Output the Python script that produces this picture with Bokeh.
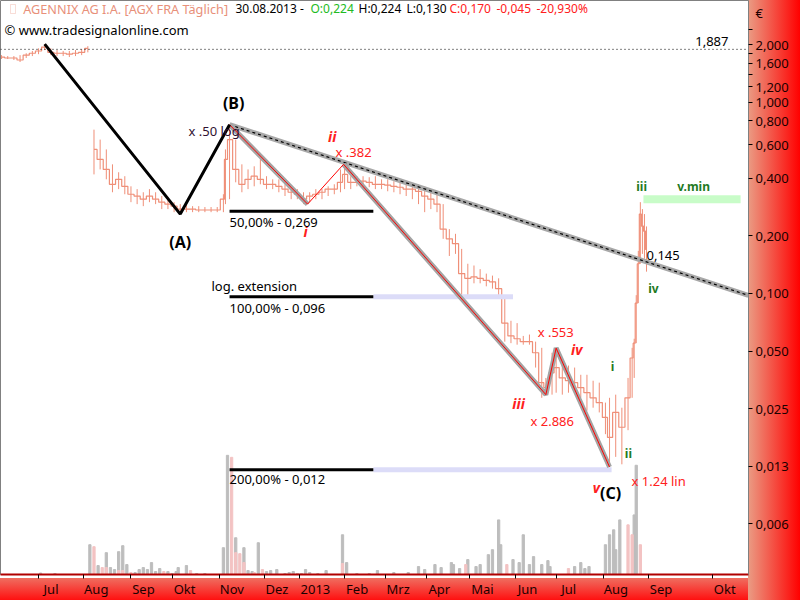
from bokeh.plotting import figure
from bokeh.models import Range1d, FixedTicker, Label, Span, BoxAnnotation, LinearScale
from bokeh.embed import file_html
from bokeh.resources import INLINE

FONT = "Noto Sans"

# x axis = trading-day index, 0 = 1 June 2012
month_names = ["Jul", "Aug", "Sep", "Okt", "Nov", "Dez", "2013", "Feb", "Mrz",
               "Apr", "Mai", "Jun", "Jul", "Aug", "Sep", "Okt"]
month_start = [21, 43, 66, 86, 109, 131, 148, 170, 190, 210, 231, 253, 273, 296, 318, 349]

y_ticks = [2.0, 1.6, 1.2, 1.0, 0.8, 0.6, 0.4, 0.2, 0.1, 0.05, 0.025, 0.0125, 0.00625]
y_tick_labels = ["2,000", "1,600", "1,200", "1,000", "0,800", "0,600", "0,400",
                 "0,200", "0,100", "0,050", "0,025", "0,013", "0,006"]
y_minor = [2.4, 1.8, 1.4]
currency_tick = 2.907   # "€" caption at the top of the price scale

# price bars (every ~3 trading days), EUR
bar_i = [3, 6, 9, 12, 15, 18, 21, 24, 27, 30, 33, 36, 39, 42, 45,
         48, 51, 54, 57, 60, 63, 66, 69, 72, 75, 78, 81, 84, 87, 90, 93, 96, 99, 102, 105, 108,
         111, 112, 114, 117, 120, 123, 126, 129, 132, 135, 138, 141, 144, 147, 150, 153, 156,
         159, 162, 165, 168, 170, 173, 176, 179, 182, 185, 188, 191, 194, 197, 200, 203, 206,
         209, 212, 215, 218, 221, 224, 227, 230, 233, 236, 239, 242, 245, 248, 251, 254, 257,
         260, 263, 266, 268, 271, 273, 276, 279, 282, 285, 288, 291, 294, 297, 299, 302, 305,
         308, 310, 311, 312, 313, 314, 315, 316, 317]
bar_hi = [1.76, 1.74, 1.74, 1.76, 1.80, 1.85, 1.91, 2.01, 1.91, 1.87, 1.85, 1.85, 1.87, 1.89, 1.96,
          0.718, 0.637, 0.566, 0.473, 0.430, 0.410, 0.363, 0.351, 0.338, 0.351, 0.338, 0.323,
          0.311, 0.300, 0.293, 0.300, 0.286, 0.286, 0.283, 0.283, 0.283,
          0.330, 0.566, 0.762, 0.637, 0.473, 0.445, 0.462, 0.502, 0.410, 0.395, 0.395, 0.372,
          0.363, 0.351, 0.338, 0.338, 0.351, 0.351, 0.363, 0.372, 0.445, 0.473, 0.410, 0.410,
          0.410, 0.405, 0.410, 0.395, 0.395, 0.386, 0.386, 0.381, 0.372, 0.372, 0.363, 0.351,
          0.342, 0.293, 0.217, 0.205, 0.171, 0.143, 0.140, 0.134, 0.127, 0.124, 0.120, 0.094,
          0.072, 0.070, 0.060, 0.061, 0.056, 0.052, 0.0362, 0.049, 0.052, 0.043, 0.042, 0.041,
          0.0376, 0.0376, 0.0350, 0.0342, 0.0269, 0.0285, 0.0296, 0.0253, 0.0362, 0.052,
          0.058, 0.098, 0.167, 0.300, 0.276, 0.260, 0.224]
bar_lo = [1.68, 1.68, 1.66, 1.62, 1.70, 1.74, 1.78, 1.87, 1.76, 1.74, 1.74, 1.72, 1.74, 1.76, 1.82,
          0.419, 0.445, 0.395, 0.338, 0.351, 0.330, 0.300, 0.293, 0.286, 0.300, 0.293, 0.276,
          0.276, 0.266, 0.260, 0.266, 0.266, 0.266, 0.266, 0.266, 0.266,
          0.266, 0.293, 0.311, 0.381, 0.338, 0.351, 0.363, 0.372, 0.351, 0.351, 0.338, 0.323,
          0.311, 0.311, 0.293, 0.300, 0.311, 0.311, 0.323, 0.330, 0.338, 0.351, 0.351, 0.363,
          0.363, 0.359, 0.351, 0.351, 0.342, 0.338, 0.330, 0.323, 0.311, 0.293, 0.266, 0.276,
          0.266, 0.193, 0.157, 0.161, 0.091, 0.094, 0.113, 0.113, 0.109, 0.106, 0.094, 0.056,
          0.055, 0.054, 0.054, 0.054, 0.041, 0.0285, 0.0296, 0.0296, 0.0303, 0.0296, 0.0303,
          0.0310, 0.0285, 0.0244, 0.0253, 0.0239, 0.0184, 0.0124, 0.0140, 0.0128, 0.0193,
          0.0285, 0.0362, 0.055, 0.089, 0.143, 0.161, 0.152, 0.130]
bar_close = [1.72, 1.70, 1.70, 1.66, 1.76, 1.80, 1.85, 1.94, 1.82, 1.80, 1.80, 1.78, 1.80, 1.82, 1.91,
             0.566, 0.502, 0.445, 0.372, 0.395, 0.363, 0.330, 0.323, 0.311, 0.323, 0.311, 0.300,
             0.293, 0.286, 0.276, 0.276, 0.276, 0.273, 0.273, 0.273, 0.273,
             0.311, 0.502, 0.637, 0.445, 0.372, 0.395, 0.410, 0.395, 0.372, 0.372, 0.363, 0.351,
             0.338, 0.330, 0.311, 0.323, 0.330, 0.338, 0.351, 0.351, 0.381, 0.419, 0.381, 0.381,
             0.386, 0.381, 0.372, 0.372, 0.368, 0.363, 0.359, 0.351, 0.351, 0.342, 0.323, 0.311,
             0.293, 0.217, 0.193, 0.182, 0.127, 0.120, 0.122, 0.120, 0.117, 0.115, 0.106, 0.070,
             0.060, 0.058, 0.056, 0.056, 0.049, 0.0342, 0.0322, 0.0385, 0.041, 0.0362, 0.0350,
             0.0342, 0.0322, 0.0303, 0.0285, 0.0269, 0.0225, 0.0177, 0.0239, 0.0200, 0.0285,
             0.046, 0.055, 0.089, 0.143, 0.260, 0.225, 0.212, 0.170]
gap_after = 45  # no quotes between these bars (data break)

# volume (thousand shares)
vol_gray_i = [22, 29, 46, 50, 54, 56, 58, 60, 62, 64, 68, 70, 72, 74, 76, 78, 80, 84, 86, 88, 89,
              93, 98, 102, 111, 113, 117, 121, 123, 125, 128, 132, 134, 137, 141, 143, 145, 147,
              149, 151, 153, 157, 161, 169, 171, 176, 182, 186, 194, 201, 206, 209, 214, 217,
              222, 223, 226, 230, 234, 236, 240, 242, 245, 246, 252, 255, 257, 260, 262, 266,
              269, 270, 282, 285, 287, 289, 297, 299, 301, 302, 304, 311, 312]
vol_gray = [1.5, 1, 30, 9, 22, 7, 5, 23, 29, 10, 2, 5, 7, 5, 12, 3, 6, 3, 1, 3, 7,
            9, 1, 1, 27, 120, 37, 27, 4, 3, 32, 3, 4, 5, 1, 2, 3, 1,
            1, 5, 2, 1, 4, 40, 12, 1, 1, 4, 2, 2, 8, 5, 10, 7,
            12, 10, 6, 15, 8, 10, 20, 25, 55, 30, 15, 12, 40, 10, 18, 10,
            14, 8, 8, 12, 6, 8, 30, 40, 45, 25, 55, 60, 110]
vol_pink_i = [48, 52, 54, 60, 62, 66, 82, 95, 115, 117, 119, 121, 126, 130, 169, 229, 249, 279,
              308, 310, 314]
vol_pink = [28, 7, 7, 4, 4, 2, 3, 4, 118, 22, 21, 12, 2, 5, 11, 10, 10, 6, 50, 40, 30]

# Elliott wave count
abc_i = [24, 90, 114]
abc_v = [2.01, 0.26, 0.762]
wave_i = [114, 152, 169.5, 268, 273, 299]
wave_v = [0.762, 0.293, 0.473, 0.0296, 0.0518, 0.0124]
trend_i = [114, 366.6]
trend_v = [0.762, 0.0977]
fib_v = [0.269, 0.096, 0.012]
fib_labels = ["50,00% - 0,269", "100,00% - 0,096", "200,00% - 0,012"]
fib_start, fib_end = 114, 184
fib_ext_end = [None, 252, 300]
vmin_i = [315.5, 362.8]
vmin_v = 0.311
last_high_level = 1.887

# ---------------------------------------------------------------- figure
W, H = 800, 600
RB, BB = 52, 22
FW, FH = W - RB, H - BB
p = figure(width=W, height=H, output_backend="svg", toolbar_location=None,
           x_range=Range1d(2.483, 366.65), y_range=Range1d(0.003400, 3.396),
           y_axis_type="log", y_axis_location="right",
           min_border_left=0, min_border_top=0, min_border_right=RB, min_border_bottom=BB)
p.border_fill_color = None
p.border_fill_alpha = 0
p.background_fill_color = "white"
p.outline_line_color = "#808080"
p.styles = {"background": f"linear-gradient(to right, #ea9c84, #ff0000) right top / {RB}px 100% no-repeat, "
                          f"linear-gradient(to bottom, #ef6e60, #ff1010) left bottom / 100% {BB}px no-repeat, white"}
p.xgrid.grid_line_color = None
p.ygrid.grid_line_color = None

label_pos = [round(s + (2.0 + 3.5 * len(n)) / 2.054, 2) for s, n in zip(month_start, month_names)]
xa = p.xaxis[0]
xa.ticker = FixedTicker(ticks=label_pos, minor_ticks=month_start)
xa.major_label_overrides = {pos: n for pos, n in zip(label_pos, month_names)}
xa.major_tick_line_color = None
xa.major_tick_out = 4
xa.major_tick_in = 0
xa.minor_tick_line_color = "black"
xa.minor_tick_out = 4
xa.minor_tick_in = 0
xa.axis_line_color = "#b00000"
xa.axis_line_width = 2
xa.major_label_standoff = 1
xa.major_label_text_font = FONT
xa.major_label_text_font_size = "13px"
xa.major_label_text_color = "#1a0000"

ya = p.yaxis[0]
ya.ticker = FixedTicker(ticks=y_ticks + [currency_tick], minor_ticks=y_ticks + y_minor)
ya.major_label_overrides = {**{t: s for t, s in zip(y_ticks, y_tick_labels)}, currency_tick: "€"}
ya.axis_line_color = "#808080"
ya.major_tick_line_color = None
ya.major_tick_out = 4
ya.major_tick_in = 0
ya.minor_tick_line_color = "black"
ya.minor_tick_out = 4
ya.minor_tick_in = 0
ya.major_label_standoff = 3
ya.major_label_text_font = FONT
ya.major_label_text_font_size = "13px"
ya.major_label_text_color = "#1a0000"

# volume
p.extra_y_ranges = {"vol": Range1d(0, FH)}
p.extra_y_scales = {"vol": LinearScale()}
p.vbar(x=vol_gray_i, top=vol_gray, width=1.1, y_range_name="vol", color="#bdbdbd")
p.vbar(x=vol_pink_i, top=vol_pink, width=1.1, y_range_name="vol", color="#f3c3c3")

# last-high dotted line
p.add_layout(Span(location=last_high_level, dimension="width", line_color="black",
                  line_dash="1 3", line_width=1))

# price
PRICE = "#ef8f78"
p.segment(x0=bar_i, y0=bar_lo, x1=bar_i, y1=bar_hi, line_color=PRICE, line_width=1)
k = bar_i.index(gap_after) + 1
p.step(bar_i[:k], bar_close[:k], mode="center", line_color=PRICE, line_width=1.2)
p.step(bar_i[k:], bar_close[k:], mode="center", line_color=PRICE, line_width=1.2)

# fib levels
for v, ext in zip(fib_v, fib_ext_end):
    if ext is not None:
        p.line([fib_end, ext], [v, v], line_color="#dcdcf8", line_width=5)
    p.line([fib_start, fib_end], [v, v], line_color="black", line_width=3)
p.line(vmin_i, [vmin_v, vmin_v], line_color="#c8fcc8", line_width=8)

# trend line
p.line(trend_i, trend_v, line_color="#a8a8a8", line_width=5)
p.line(trend_i, trend_v, line_color="black", line_width=1.2, line_dash="3 3")

# waves
p.multi_line(xs=[wave_i[0:2], wave_i[2:6]], ys=[wave_v[0:2], wave_v[2:6]],
             line_color="#a4a4a4", line_width=5)
p.line(wave_i, wave_v, line_color="#ff0000", line_width=1)
p.line(abc_i, abc_v, line_color="black", line_width=3)


def lab(x, y, text, color="black", size="13px", style="normal", align="left", base="middle", **kw):
    p.add_layout(Label(x=x, y=y, text=text, text_color=color, text_font=FONT,
                       text_font_size=size, text_font_style=style, text_align=align,
                       text_baseline=base, **kw))


RED = "#ff2020"
GREEN = "#1f7a1f"
lab(116, 0.992, "(B)", size="16px", style="bold", align="center")
lab(90, 0.186, "(A)", size="16px", style="bold", align="center")
lab(299.5, 0.00906, "(C)", size="16px", style="bold", align="center")
lab(94, 0.710, "x .50 log", color="#301030")
lab(164, 0.660, "ii", color=RED, size="14px", style="bold italic", align="center")
lab(165.6, 0.546, "x .382", color=RED)
lab(151, 0.2098, "i", color=RED, size="14px", style="bold italic", align="center")
lab(114, 0.2363, fib_labels[0])
lab(105.2, 0.110, "log. extension")
lab(114, 0.0836, fib_labels[1])
lab(114, 0.0107, fib_labels[2])
lab(264, 0.0628, "x .553", color=RED)
lab(283, 0.0512, "iv", color=RED, size="14px", style="bold italic", align="center")
lab(254.7, 0.02655, "iii", color=RED, size="14px", style="bold italic", align="center")
lab(260.5, 0.02167, "x 2.886", color=RED)
lab(292.6, 0.00973, "v", color=RED, size="14px", style="bold italic", align="center")
lab(309.7, 0.01045, "x 1.24 lin", color=RED)
lab(300.4, 0.0413, "i", color=GREEN, size="12px", style="bold", align="center")
lab(308.2, 0.01461, "ii", color=GREEN, size="12px", style="bold", align="center")
lab(314.6, 0.3635, "iii", color=GREEN, size="12px", style="bold", align="center")
lab(339.9, 0.3635, "v.min", color=GREEN, size="12px", style="bold", align="center")
lab(320.4, 0.1062, "iv", color=GREEN, size="12px", style="bold", align="center")
lab(317, 0.1575, "0,145")
lab(356.9, 2.08, "1,887", align="right")


def hdr(x, y_top, text, color, size="12px"):
    p.add_layout(Label(x=x, y=FH - y_top, x_units="screen", y_units="screen", text=text,
                       text_color=color, text_font=FONT, text_font_size=size,
                       text_baseline="middle"))


hdr(22.7, 12, "AGENNIX AG I.A. [AGX FRA  Täglich]", "#e8907a", size="12.7px")
hdr(235, 12, "30.08.2013 -", "black")
hdr(310, 12, "O:0,224", "#22bb22")
hdr(358, 12, "H:0,224", "black")
hdr(406, 12, "L:0,130", "black")
hdr(449, 12, "C:0,170", RED)
hdr(496, 12, "-0,045", RED)
hdr(536, 12, "-20,930%", RED)
hdr(4, 33, "© www.tradesignalonline.com", "black", size="13px")
p.add_layout(BoxAnnotation(left=10, right=15, top=FH - 8, bottom=FH - 17, left_units="screen",
                           right_units="screen", top_units="screen", bottom_units="screen",
                           fill_color="white", fill_alpha=1, line_color="#e8907a"))

open("out.html", "w").write(file_html(p, INLINE))
